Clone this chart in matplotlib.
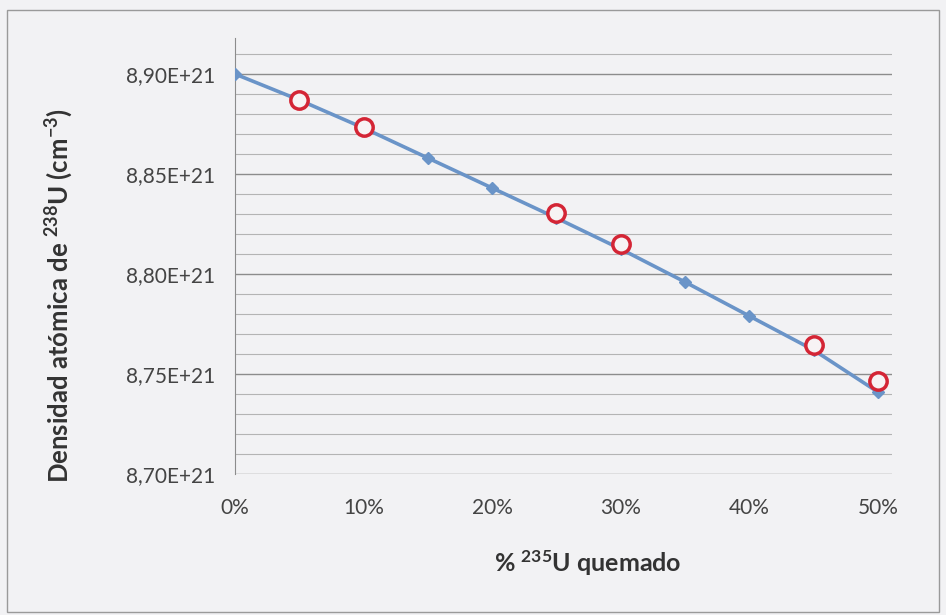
import numpy as np
import matplotlib
matplotlib.use("Agg")
import matplotlib.pyplot as plt
from matplotlib.patches import Rectangle

# Data (x in %, y in 1e21 atoms/cm3)
burn_pct = [0, 5, 10, 15, 20, 25, 30, 35, 40, 45, 50]
dens_line = [8.900, 8.887, 8.873, 8.858, 8.843, 8.828, 8.8125, 8.796, 8.779, 8.762, 8.741]
circ_pct = [5, 10, 25, 30, 45, 50]
dens_circ = [8.887, 8.8735, 8.8305, 8.815, 8.7645, 8.7465]
ytick_vals = [8.70, 8.75, 8.80, 8.85, 8.90]
ytick_lbls = ["8,70E+21", "8,75E+21", "8,80E+21", "8,85E+21", "8,90E+21"]

plt.rcParams['font.family'] = ['Lato', 'DejaVu Sans']
plt.rcParams['mathtext.fontset'] = 'custom'
plt.rcParams['mathtext.rm'] = 'Lato'
plt.rcParams['mathtext.bf'] = 'Lato:bold'

bg = '#f2f2f4'
fig = plt.figure(figsize=(9.46, 6.15), dpi=100, facecolor=bg)
ax = fig.add_axes([235/946, 1 - 474/615, (892-235)/946, (474-38)/615])
ax.set_facecolor(bg)

# outer chart border
fig.patches.append(Rectangle((7/946, 3/615), 932/946, 602/615, transform=fig.transFigure,
                             fill=False, edgecolor='#9a9a9a', linewidth=1.0))

ax.set_xlim(0, 51.1)
ax.set_ylim(8.70, 8.918)

# gridlines
for v in np.arange(8.71, 8.915, 0.01):
    major = abs(round(v * 100) % 5) == 0
    ax.axhline(v, color='#8c8c8c' if major else '#b4b4b4', linewidth=1.0 if major else 0.8, zorder=1)
ax.axhline(8.70, color='#8c8c8c', linewidth=1.0, zorder=1)

ax.plot(burn_pct, dens_line, color='#6a94c8', linewidth=2.6, marker='D', markersize=6.5,
        markerfacecolor='#6a94c8', markeredgecolor='#6a94c8', zorder=3)
ax.plot(circ_pct, dens_circ, linestyle='none', marker='o', markersize=12.5,
        markerfacecolor='#f7f3f4', markeredgecolor='#d42535', markeredgewidth=2.5, zorder=4)

for s in ['top', 'right', 'bottom']:
    ax.spines[s].set_visible(False)
ax.spines['left'].set_color('#8c8c8c')

ax.set_yticks(ytick_vals)
ax.set_yticklabels(ytick_lbls)
ax.set_xticks(burn_pct[::2])
ax.set_xticklabels([f"{p}%" for p in burn_pct[::2]])
ax.tick_params(axis='both', length=0, labelsize=15, colors='#444444')
ax.tick_params(axis='y', pad=14)
ax.tick_params(axis='x', pad=17)

ax.set_ylabel(r"Densidad atómica de $\mathbf{^{238}}$U (cm$\mathbf{^{-3}}$)",
              fontsize=18.5, fontweight='bold', color='#333333')
ax.yaxis.set_label_coords(-0.243, 0.41)
ax.set_xlabel(r"% $\mathbf{^{235}}$U quemado", fontsize=18, fontweight='bold',
              color='#333333')
ax.xaxis.set_label_coords(0.537, -0.17)

fig.savefig("out.png", dpi=100, facecolor=bg)
